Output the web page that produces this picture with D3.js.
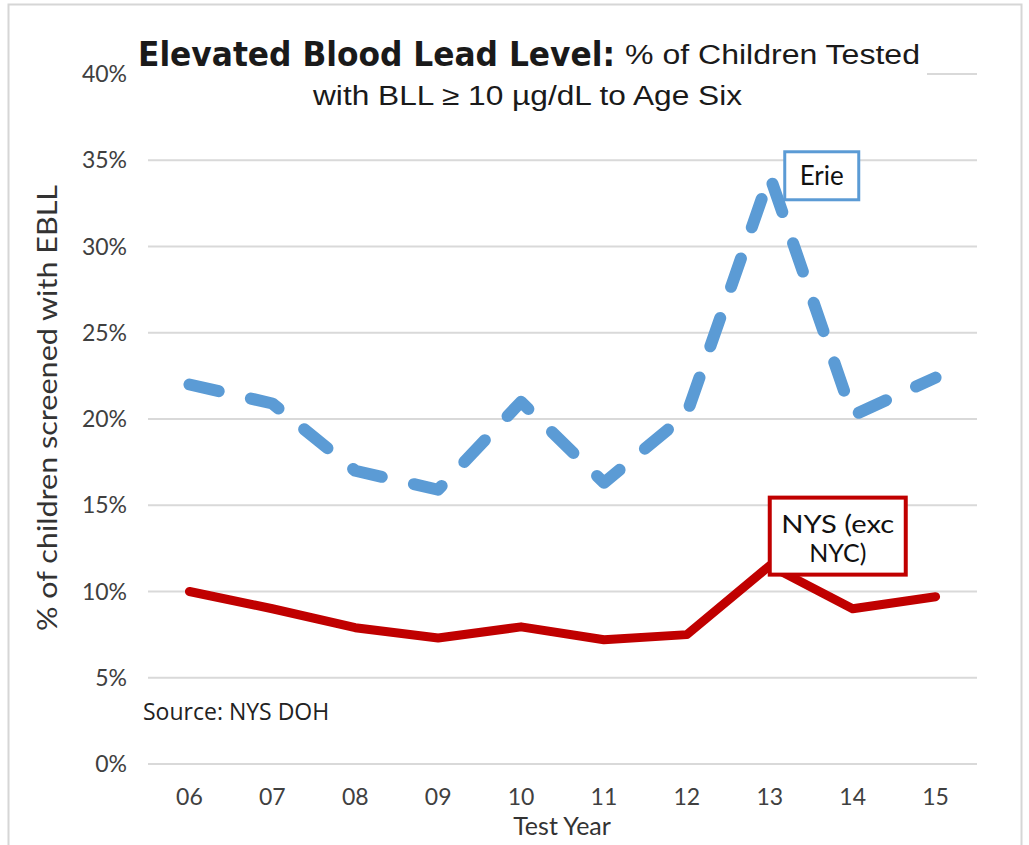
<!DOCTYPE html>
<html>
<head>
<meta charset="utf-8">
<script src="https://cdn.jsdelivr.net/npm/d3@7"></script>
<style>
  body { margin: 0; background: #fff; }
  svg { display: block; }
</style>
</head>
<body>
<div id="chart"></div>
<script>
// chart data
var years = ["06", "07", "08", "09", "10", "11", "12", "13", "14", "15"];
var erie = [22.0, 20.9, 17.0, 15.9, 21.0, 16.3, 20.3, 34.1, 20.2, 22.4];
var nys = [10.0, 9.0, 7.9, 7.3, 7.95, 7.2, 7.5, 11.5, 9.0, 9.7];
var yTicks = [0, 5, 10, 15, 20, 25, 30, 35, 40];

var svgWidth = 1029;
var svgHeight = 845;

var svg = d3.select("#chart")
  .append("svg")
  .attr("width", svgWidth)
  .attr("height", svgHeight);

// outer frame
svg.append("rect")
  .attr("x", 8.5).attr("y", 4.5)
  .attr("width", 1013).attr("height", 850)
  .attr("fill", "none")
  .attr("stroke", "#d6d6d6")
  .attr("stroke-width", 2);

// scales
var xScale = d3.scaleBand()
  .domain(years)
  .range([148, 977]);
var yScale = d3.scaleLinear()
  .domain([0, 40])
  .range([764, 74]);

var cx = function(d) { return xScale(d) + xScale.bandwidth() / 2; };

// gridlines
svg.append("g")
  .selectAll("line")
  .data(yTicks)
  .enter()
  .append("line")
    .attr("x1", 148)
    .attr("x2", 977)
    .attr("y1", d => yScale(d))
    .attr("y2", d => yScale(d))
    .attr("stroke", "#d9d9d9")
    .attr("stroke-width", 2);

// y tick labels
svg.append("g")
  .selectAll("text")
  .data(yTicks)
  .enter()
  .append("text")
    .attr("x", 127)
    .attr("y", d => yScale(d))
    .attr("dy", "0.35em")
    .attr("text-anchor", "end")
    .style("font-family", "Lato, sans-serif")
    .style("font-size", "23px")
    .style("fill", "#404040")
    .text(d => d + "%");

// x tick labels
svg.append("g")
  .selectAll("text")
  .data(years)
  .enter()
  .append("text")
    .attr("x", d => cx(d))
    .attr("y", 805)
    .attr("text-anchor", "middle")
    .style("font-family", "Lato, sans-serif")
    .style("font-size", "23px")
    .style("fill", "#404040")
    .text(d => d);

// axis titles
svg.append("text")
  .attr("x", 562)
  .attr("y", 835)
  .attr("text-anchor", "middle")
  .style("font-family", "Lato, sans-serif")
  .style("font-size", "25px")
  .style("fill", "#333")
  .text("Test Year");

svg.append("text")
  .attr("transform", "translate(57, 408) rotate(-90)")
  .attr("text-anchor", "middle")
  .attr("textLength", 446)
  .attr("lengthAdjust", "spacingAndGlyphs")
  .style("font-family", "Lato, sans-serif")
  .style("font-size", "26px")
  .style("fill", "#333")
  .text("% of children screened with EBLL");

// source note
svg.append("text")
  .attr("x", 143)
  .attr("y", 720)
  .style("font-family", "'Open Sans', sans-serif")
  .style("font-size", "23px")
  .style("fill", "#222")
  .text("Source: NYS DOH");

// lines
var line = d3.line()
  .x((d, i) => cx(years[i]))
  .y(d => yScale(d));

svg.append("path")
  .datum(nys)
  .attr("d", line)
  .attr("fill", "none")
  .attr("stroke", "#c00000")
  .attr("stroke-width", 9)
  .attr("stroke-linejoin", "round")
  .attr("stroke-linecap", "round");

svg.append("path")
  .datum(erie)
  .attr("d", line)
  .attr("fill", "none")
  .attr("stroke", "#5b9bd5")
  .attr("stroke-width", 12)
  .attr("stroke-dasharray", "30,33")
  .attr("stroke-linejoin", "round")
  .attr("stroke-linecap", "round");

// series labels
var peak = years.indexOf("13");

var erieLabel = svg.append("g")
  .attr("transform", `translate(${cx("13") + 15}, ${yScale(erie[peak]) - 24})`);
erieLabel.append("rect")
  .attr("width", 74).attr("height", 48)
  .attr("fill", "#fff")
  .attr("stroke", "#5b9bd5")
  .attr("stroke-width", 3);
erieLabel.append("text")
  .attr("x", 37).attr("y", 33)
  .attr("text-anchor", "middle")
  .style("font-family", "Lato, sans-serif")
  .style("font-size", "26px")
  .style("fill", "#111")
  .text("Erie");

var nysLabel = svg.append("g")
  .attr("transform", `translate(${cx("13")}, ${yScale(nys[peak]) - 68})`);
nysLabel.append("rect")
  .attr("width", 136).attr("height", 77)
  .attr("fill", "#fff")
  .attr("stroke", "#c00000")
  .attr("stroke-width", 4);
nysLabel.append("text")
  .attr("x", 68).attr("y", 35)
  .attr("text-anchor", "middle")
  .attr("textLength", 113)
  .attr("lengthAdjust", "spacingAndGlyphs")
  .style("font-family", "Lato, sans-serif")
  .style("font-size", "25px")
  .style("fill", "#111")
  .text("NYS (exc");
nysLabel.append("text")
  .attr("x", 68).attr("y", 64)
  .attr("text-anchor", "middle")
  .style("font-family", "Lato, sans-serif")
  .style("font-size", "25px")
  .style("fill", "#111")
  .text("NYC)");

// title (white box over the top gridline)
svg.append("rect")
  .attr("x", 132).attr("y", 28)
  .attr("width", 795).attr("height", 88)
  .attr("fill", "#fff");

svg.append("text")
  .attr("x", 138).attr("y", 66)
  .attr("textLength", 477)
  .attr("lengthAdjust", "spacingAndGlyphs")
  .style("font-family", "'DejaVu Sans Condensed', 'Liberation Sans', sans-serif")
  .style("font-weight", "bold")
  .style("font-size", "34px")
  .style("fill", "#1a1a1a")
  .text("Elevated Blood Lead Level:");

svg.append("text")
  .attr("x", 625).attr("y", 64)
  .attr("textLength", 295)
  .attr("lengthAdjust", "spacingAndGlyphs")
  .style("font-family", "'Liberation Sans', sans-serif")
  .style("font-size", "27px")
  .style("fill", "#1a1a1a")
  .text("% of Children Tested");

svg.append("text")
  .attr("x", 313).attr("y", 105)
  .attr("textLength", 429)
  .attr("lengthAdjust", "spacingAndGlyphs")
  .style("font-family", "'Liberation Sans', sans-serif")
  .style("font-size", "27px")
  .style("fill", "#1a1a1a")
  .text("with BLL \u2265 10 \u00b5g/dL to Age Six");
</script>
</body>
</html>
